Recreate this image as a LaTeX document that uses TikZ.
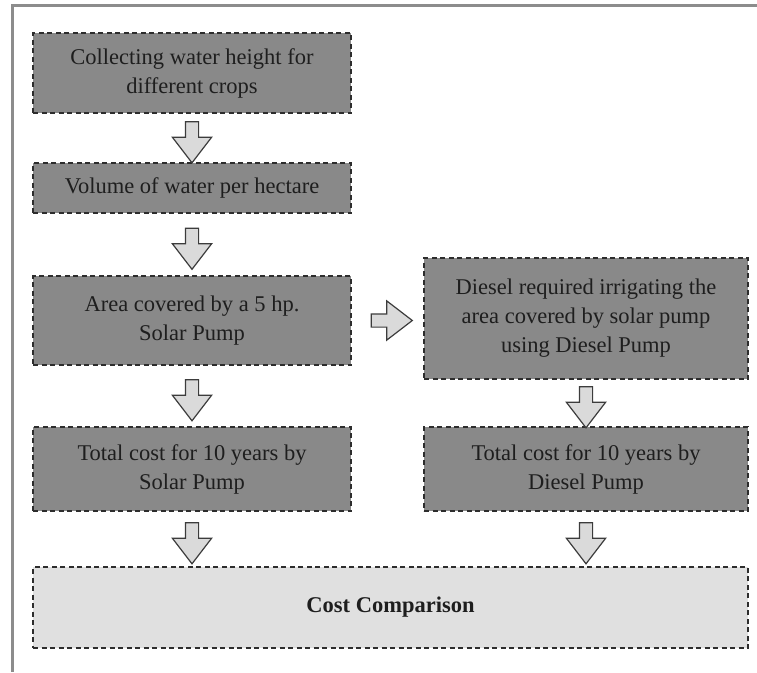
\documentclass[tikz,border=0pt]{standalone}
\usepackage{fontspec}
\setmainfont{Liberation Serif}
\usetikzlibrary{shapes.arrows,calc}
\definecolor{boxgray}{RGB}{137,137,137}
\definecolor{lightgray}{RGB}{224,224,224}
\definecolor{boxline}{RGB}{45,45,45}
\definecolor{arrowgray}{RGB}{218,218,218}
\definecolor{arrowline}{RGB}{60,60,60}
\definecolor{framegray}{RGB}{140,140,140}
\definecolor{textgray}{RGB}{30,30,30}

\begin{document}
\begin{tikzpicture}[x=1pt,y=-1pt,
  box/.style={draw=boxline,dash pattern=on 5pt off 3.5pt,line width=1.4pt,fill=boxgray,
    align=center,inner sep=0pt,text=textgray,font=\fontsize{22.5}{29}\selectfont},
  bigarrow/.style={single arrow,draw=arrowline,fill=arrowgray,line width=1.2pt,
    inner xsep=0pt,inner ysep=6pt,single arrow head extend=13pt,minimum height=41pt,
    single arrow tip angle=75}]
\useasboundingbox (0,0) rectangle (757,672);
\draw[framegray,line width=3pt] (757,5) -- (12,5) -- (12,672);

\node[box,minimum width=318pt,minimum height=80pt] (collect) at (192,73)
  {Collecting water height for\\different crops};
\node[box,minimum width=318pt,minimum height=50pt] (volume) at (192,188)
  {Volume of water per hectare};
\node[box,minimum width=318pt,minimum height=89pt] (area) at (192,320.5)
  {Area covered by a 5 hp.\\Solar Pump};
\node[box,minimum width=324pt,minimum height=121pt] (dieselreq) at (586,318.5)
  {Diesel required irrigating the\\area covered by solar pump\\using Diesel Pump};
\node[box,minimum width=318pt,minimum height=84pt] (solarcost) at (192,469)
  {Total cost for 10 years by\\Solar Pump};
\node[box,minimum width=324pt,minimum height=84pt] (dieselcost) at (586,469)
  {Total cost for 10 years by\\Diesel Pump};
\node[box,fill=lightgray,minimum width=715pt,minimum height=81pt,font=\fontsize{22.5}{29}\selectfont\bfseries]
  (compare) at (390.5,607.5) {Cost Comparison};

\node[bigarrow,rotate=-90] (a1) at ($(collect.south)!0.5!(volume.north)$) {};
\node[bigarrow,rotate=-90] (a2) at ($(volume.south)!0.5!(area.north)$) {};
\node[bigarrow,rotate=-90] (a3) at ($(area.south)!0.5!(solarcost.north)$) {};
\node[bigarrow] (a4) at ($(area.east)!0.5!(area.east-|dieselreq.west)$) {};
\node[bigarrow,rotate=-90] (a5) at ($(dieselreq.south)!0.5!(dieselcost.north)$) {};
\node[bigarrow,rotate=-90] (a6) at ($(solarcost.south)!0.5!(solarcost.south|-compare.north)$) {};
\node[bigarrow,rotate=-90] (a7) at ($(dieselcost.south)!0.5!(dieselcost.south|-compare.north)$) {};
\end{tikzpicture}
\end{document}
